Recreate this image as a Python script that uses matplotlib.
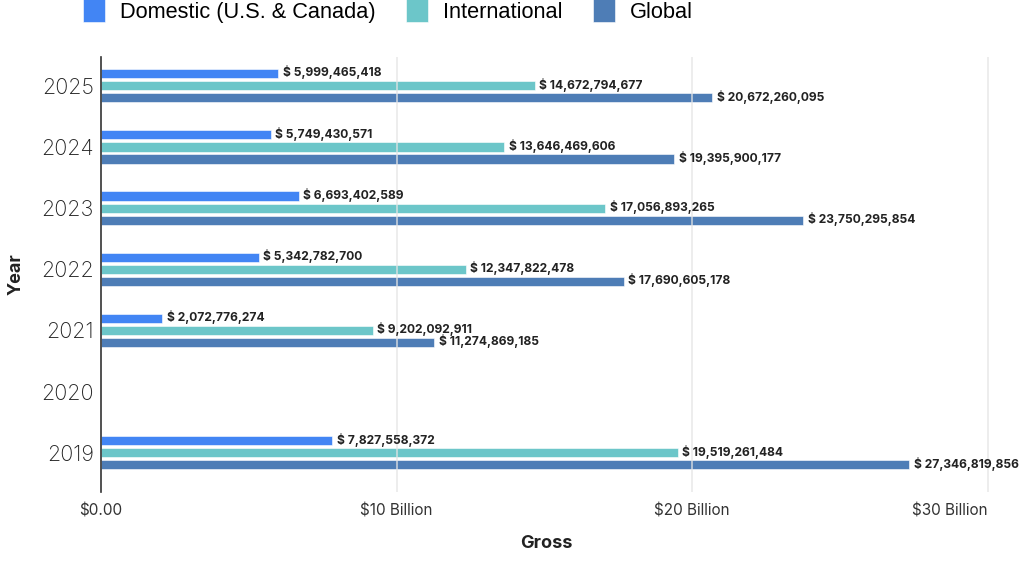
import numpy as np
import matplotlib
matplotlib.use('Agg')
import matplotlib.pyplot as plt

plt.rcParams['font.family'] = ['Inter', 'DejaVu Sans']

years = ['2019', '2020', '2021', '2022', '2023', '2024', '2025']
domestic = [7827558372, np.nan, 2072776274, 5342782700, 6693402589, 5749430571, 5999465418]
international = [19519261484, np.nan, 9202092911, 12347822478, 17056893265, 13646469606, 14672794677]
global_gross = [27346819856, np.nan, 11274869185, 17690605178, 23750295854, 19395900177, 20672260095]

series_names = ['Domestic (U.S. & Canada)', 'International', 'Global']
series_colors = ['#4285f4', '#6cc6c9', '#4e7db6']
x_ticks = [0, 10e9, 20e9, 30e9]
x_tick_labels = ['$0.00', '$10 Billion', '$20 Billion', '$30 Billion']

fig = plt.figure(figsize=(10.24, 5.61), dpi=100)
ax = fig.add_axes([0.0986, 0.123, 0.869, 0.7754])

pos = np.arange(len(years))
offsets = [0.197, 0.0, -0.197]
bar_h = 0.15

for vals, name, color, off in zip([domestic, international, global_gross],
                                  series_names, series_colors, offsets):
    ax.barh(pos + off, vals, height=bar_h, color=color, label=name,
            edgecolor='white', linewidth=0.4, zorder=2)
    for p, v in zip(pos, vals):
        if np.isnan(v):
            continue
        ax.text(v + 0.15e9, p + off + 0.02, f'$ {int(v):,}', va='center', ha='left',
                fontsize=8.7, fontweight='bold', color='#222222', zorder=4)

ax.set_xlim(0, 30.1e9)
ax.set_ylim(-0.64, 6.47)
ax.set_xticks(x_ticks)
ax.set_xticklabels(x_tick_labels, fontsize=11, color='#333333')
ax.get_xticklabels()[-1].set_horizontalalignment('right')
ax.set_yticks(pos)
ax.set_yticklabels(years, fontsize=15.5, color='#222222', fontweight='light')
ax.tick_params(axis='both', length=0)
ax.tick_params(axis='x', pad=8)
ax.tick_params(axis='y', pad=5)

for x in x_ticks[1:]:
    ax.axvline(x, color='#e4e4e4', linewidth=1.2, alpha=0.8, zorder=3)

for s in ['top', 'right', 'bottom']:
    ax.spines[s].set_visible(False)
ax.spines['left'].set_color('#333333')
ax.spines['left'].set_linewidth(1.2)

ax.set_xlabel('Gross', fontsize=13, fontweight='bold', color='#222222', labelpad=12)
ax.set_ylabel('Year', fontsize=13, fontweight='bold', color='#222222', labelpad=12)

fig.legend(loc='center left', bbox_to_anchor=(0.081, 1 - 11 / 561), ncol=3, frameon=False,
           prop={'family': 'Liberation Sans', 'size': 15.7},
           handlelength=1.0, handleheight=1.2, columnspacing=1.4,
           handletextpad=0.7, borderpad=0, borderaxespad=0)

fig.savefig('out.png', dpi=100)
